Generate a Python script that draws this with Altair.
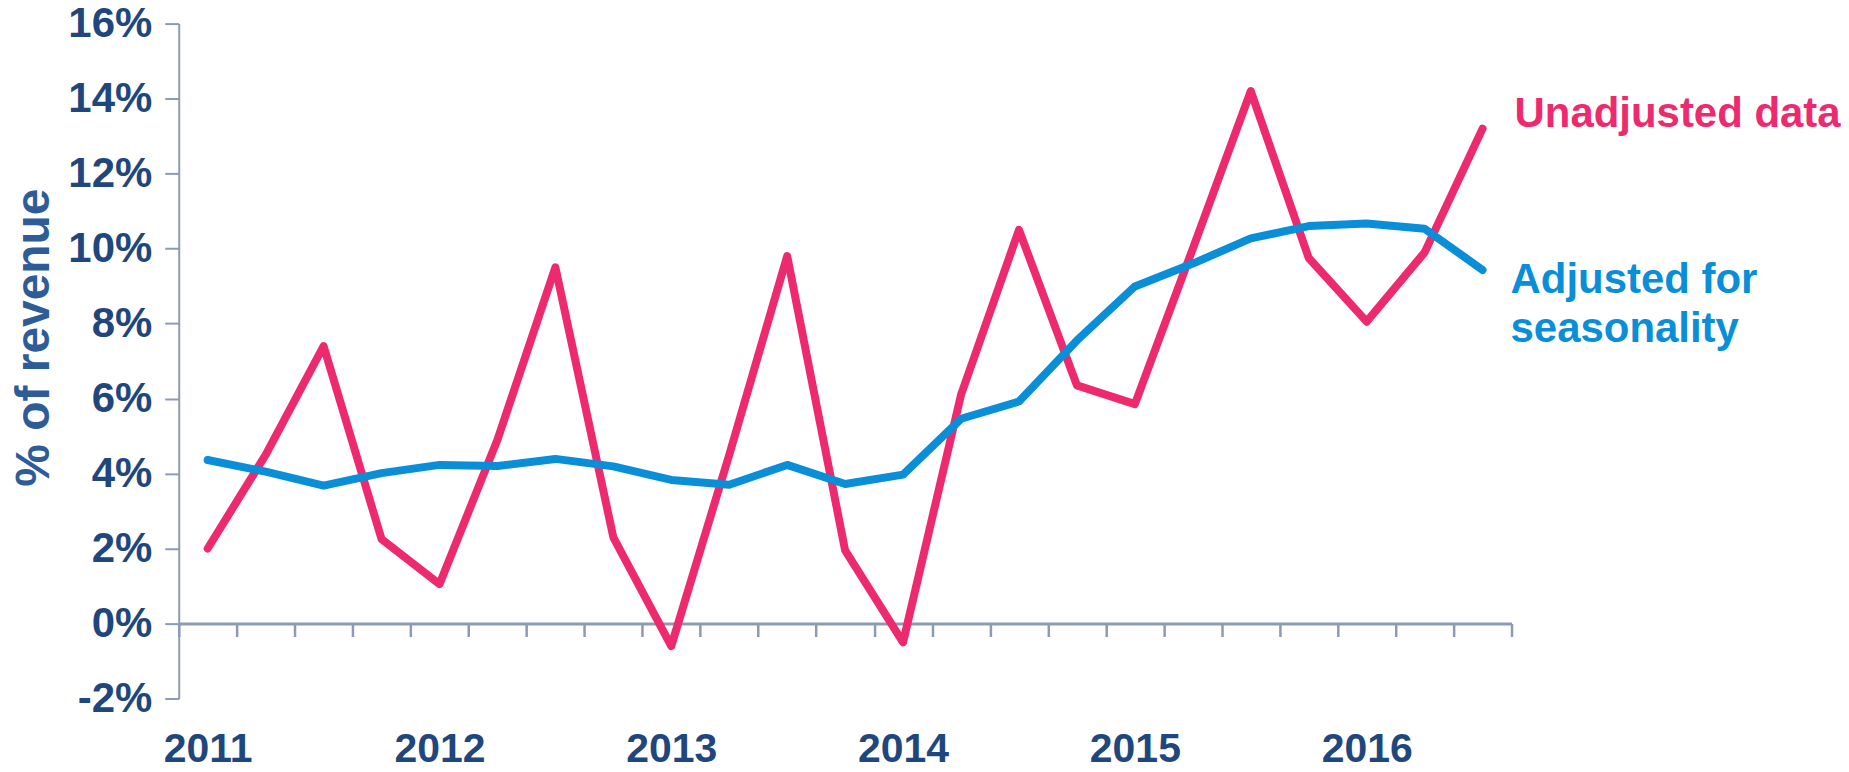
import altair as alt
import pandas as pd

# ---- data ----
quarters = [f"{y} Q{q}" for y in range(2011, 2017) for q in range(1, 5)][:23]
unadjusted = [2.0, 4.5, 7.4, 2.25, 1.05, 4.9, 9.5, 2.3, -0.6, 4.5, 9.8, 1.95,
              -0.5, 6.1, 10.5, 6.35, 5.85, 10.0, 14.2, 9.75, 8.05, 9.9, 13.2]
adjusted = [4.36, 4.05, 3.68, 4.01, 4.23, 4.2, 4.39, 4.19, 3.83, 3.7, 4.23, 3.72,
            3.97, 5.46, 5.92, 7.55, 8.99, 9.6, 10.27, 10.6, 10.67, 10.53, 9.43]
year_labels = ["2011", "2012", "2013", "2014", "2015", "2016"]
y_ticks = [-2, 0, 2, 4, 6, 8, 10, 12, 14, 16]
series_names = ["Unadjusted data", "Adjusted for\nseasonality"]

PINK = "#EE2A6F"
BLUE = "#0A8ED8"
NAVY = "#1F477D"
TITLE_BLUE = "#2E5C99"
AXIS_GREY = "#8D9AB6"
FONT = "Liberation Sans"

W, H = 1335, 676
n = len(quarters)

df_u = pd.DataFrame({"pos": range(n), "quarter": quarters, "value": unadjusted})
df_a = pd.DataFrame({"pos": range(n), "quarter": quarters, "value": adjusted})
df_lab_u = pd.DataFrame({"pos": [n - 1], "value": [unadjusted[-1]], "label": [series_names[0]]})
df_lab_a = pd.DataFrame({"pos": [n - 1], "value": [adjusted[-1]], "label": [series_names[1]]})

x_scale = alt.Scale(domain=[0, n], nice=False, zero=False)
y_scale = alt.Scale(domain=[y_ticks[0], y_ticks[-1]], nice=False, zero=False)

y_axis = alt.Axis(
    orient="left",
    values=y_ticks, labelExpr="datum.value + '%'", grid=False,
    labelFont=FONT, labelFontSize=42, labelFontWeight="bold", labelColor=NAVY,
    labelPadding=13, tickSize=14, tickWidth=2, tickColor=AXIS_GREY,
    domainColor=AXIS_GREY, domainWidth=2,
    title="% of revenue", titleFont=FONT, titleFontSize=48, titleFontWeight="bold",
    titleColor=TITLE_BLUE, titleAngle=-90, titleX=-144, titleY=314,
    titleAlign="center", titleBaseline="middle",
)

zero_offset = -H * (0 - y_ticks[0]) / (y_ticks[-1] - y_ticks[0])
x_axis_ticks = alt.Axis(
    orient="bottom",
    values=list(range(n + 1)), labels=False, grid=False, title=None,
    tickSize=13, tickWidth=2.5, tickColor=AXIS_GREY,
    domainColor=AXIS_GREY, domainWidth=3, offset=zero_offset,
)
year_expr = "[" + ",".join(f"'{y}'" for y in year_labels) + "][floor(datum.value / 4)]"
x_axis_years = alt.Axis(
    orient="bottom",
    values=[4 * k + 0.5 for k in range(len(year_labels))], labelExpr=year_expr,
    ticks=False, domain=False, grid=False, title=None,
    labelFont=FONT, labelFontSize=41, labelFontWeight="bold", labelColor=NAVY,
    labelPadding=31, labelFlush=False, labelOverlap=False,
)

calc = "datum.pos + 0.5"
LW = 8

pink_line = alt.Chart(df_u).transform_calculate(xc=calc).mark_line(
    color=PINK, strokeWidth=LW, strokeCap="round", strokeJoin="round"
).encode(
    x=alt.X("xc:Q", scale=x_scale, axis=x_axis_ticks),
    y=alt.Y("value:Q", scale=y_scale, axis=y_axis),
    order="pos:Q",
)

blue_line = alt.Chart(df_a).transform_calculate(xc=calc).mark_line(
    color=BLUE, strokeWidth=LW, strokeCap="round", strokeJoin="round"
).encode(
    x=alt.X("xc:Q", scale=x_scale, axis=x_axis_years),
    y=alt.Y("value:Q", scale=y_scale, axis=y_axis),
    order="pos:Q",
)

lab_u = alt.Chart(df_lab_u).transform_calculate(xc=calc).mark_text(
    align="left", baseline="alphabetic", dx=32, dy=-2,
    font=FONT, fontSize=42, fontWeight="bold", color=PINK,
).encode(
    x=alt.X("xc:Q", scale=x_scale, axis=None),
    y=alt.Y("value:Q", scale=y_scale, axis=y_axis),
    text="label:N",
)

lab_a = alt.Chart(df_lab_a).transform_calculate(xc=calc).mark_text(
    align="left", baseline="alphabetic", dx=28, dy=23, lineBreak="\n", lineHeight=49,
    font=FONT, fontSize=42, fontWeight="bold", color=BLUE,
).encode(
    x=alt.X("xc:Q", scale=x_scale, axis=None),
    y=alt.Y("value:Q", scale=y_scale, axis=y_axis),
    text="label:N",
)

chart = alt.layer(pink_line, blue_line, lab_u, lab_a).resolve_axis(
    x="independent"
).properties(
    width=W, height=H,
    autosize=alt.AutoSizeParams(type="none"),
    padding={"left": 171, "top": 15, "right": 330, "bottom": 80},
    background="white",
).configure_view(stroke=None)

chart.save("out.html", embed_options={"renderer": "svg", "actions": False})
